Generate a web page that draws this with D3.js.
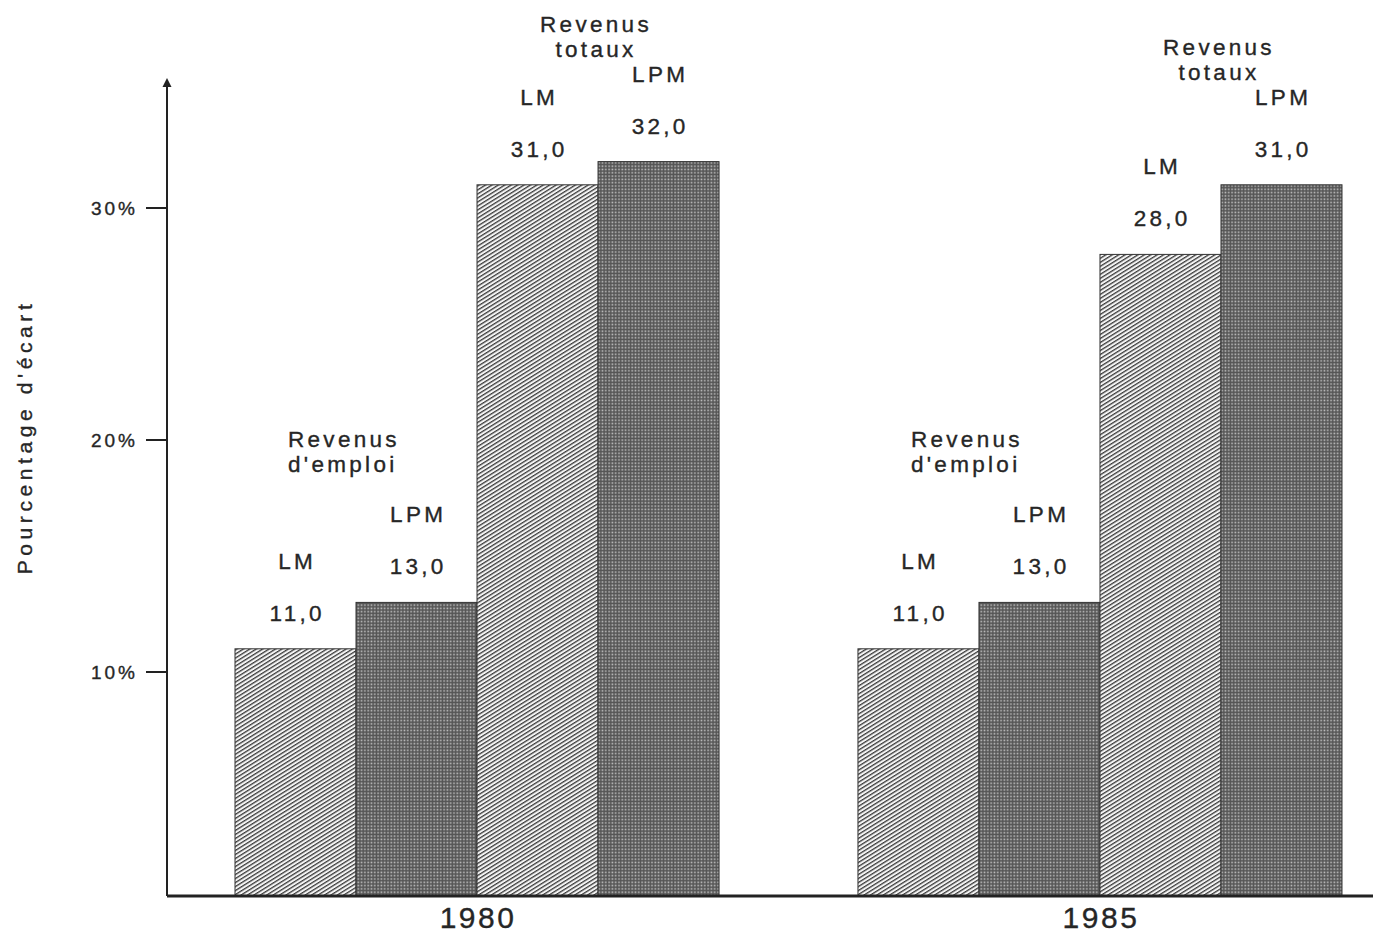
<!DOCTYPE html>
<html lang="fr">
<head>
<meta charset="utf-8">
<script src="https://cdn.jsdelivr.net/npm/d3@7"></script>
<style>
  html, body { margin: 0; padding: 0; background: #fff; }
  svg { display: block; }
  text { font-family: "Liberation Sans", Arial, sans-serif; fill: #262626; stroke: #262626; stroke-width: 0.35px; }
</style>
</head>
<body>
<svg id="chart" width="1373" height="935"></svg>
<script>
// Années et séries
const years = ["1980", "1985"];
const series = ["emploiLM", "emploiLPM", "totauxLM", "totauxLPM"];
const seriesShort = ["LM", "LPM", "LM", "LPM"];
const seriesKind = ["lm", "lpm", "lm", "lpm"];
const values1980 = [11.0, 13.0, 31.0, 32.0];
const values1985 = [11.0, 13.0, 28.0, 31.0];
const yTicks = [10, 20, 30];
const groupHeads = [["Revenus", "d'emploi"], ["Revenus", "totaux"]];
const axisTitle = "Pourcentage d'écart";

const valuesByYear = { "1980": values1980, "1985": values1985 };
const fmt = v => v.toFixed(1).replace(".", ",");

const svg = d3.select("#chart");
const W = 1373, H = 935;
const axisX = 167, baseY = 896, topY = 78;

// Motifs de remplissage : hachures pour LM, trame pointillée pour LPM
const defs = svg.append("defs");
const hatch = defs.append("pattern")
  .attr("id", "hatch").attr("patternUnits", "userSpaceOnUse")
  .attr("width", 8).attr("height", 3.4)
  .attr("patternTransform", "rotate(-32)");
hatch.append("rect").attr("width", 8).attr("height", 3.4).attr("fill", "#f4f4f4");
hatch.append("rect").attr("y", 0).attr("width", 8).attr("height", 1.3).attr("fill", "#3a3a3a");

const dots = defs.append("pattern")
  .attr("id", "dots").attr("patternUnits", "userSpaceOnUse")
  .attr("width", 3.3).attr("height", 3.3);
dots.append("rect").attr("width", 3.3).attr("height", 3.3).attr("fill", "#555");
dots.append("rect").attr("x", 0.4).attr("y", 0.4).attr("width", 1.6).attr("height", 1.6).attr("fill", "#c0c0c0");

// Échelles
const x0 = d3.scaleBand().domain(years).range([235, 1342]).paddingInner(0.223).paddingOuter(0);
const x1 = d3.scaleBand().domain(series).range([0, x0.bandwidth()]).padding(0);
const y = d3.scaleLinear().domain([10, 30]).range([672, 208]);

// Barres
const groups = svg.append("g").selectAll("g")
  .data(years).join("g")
  .attr("transform", d => `translate(${x0(d)},0)`);

groups.selectAll("rect")
  .data(yr => series.map((s, i) => ({ year: yr, key: s, i, value: valuesByYear[yr][i] })))
  .join("rect")
  .attr("x", d => x1(d.key))
  .attr("y", d => y(d.value))
  .attr("width", x1.bandwidth())
  .attr("height", d => baseY - y(d.value))
  .attr("fill", d => seriesKind[d.i] === "lm" ? "url(#hatch)" : "url(#dots)")
  .attr("stroke", "#333")
  .attr("stroke-width", 1);

// Étiquettes : valeur et série au-dessus de chaque barre
const labelFont = 22.5, labelSpacing = 3.3;
groups.each(function (yr) {
  const g = d3.select(this);
  const vals = valuesByYear[yr];
  series.forEach((s, i) => {
    const cx = x1(s) + x1.bandwidth() / 2 + labelSpacing / 2;
    const top = y(vals[i]);
    g.append("text")
      .attr("x", cx).attr("y", top - 28)
      .attr("text-anchor", "middle")
      .attr("font-size", labelFont).attr("letter-spacing", labelSpacing)
      .text(fmt(vals[i]));
    g.append("text")
      .attr("x", cx).attr("y", top - 80)
      .attr("text-anchor", "middle")
      .attr("font-size", labelFont).attr("letter-spacing", labelSpacing)
      .text(seriesShort[i]);
  });
  // En-têtes des paires de barres
  const pairs = [[0, 1], [2, 3]];
  pairs.forEach((p, k) => {
    const hi = Math.max(vals[p[0]], vals[p[1]]);
    let hx, anchor, hy;
    if (k === 0) {
      hx = x1(series[p[0]]) + 53; anchor = "start"; hy = y(hi) - 155;
    } else {
      hx = (x1(series[p[0]]) + x1(series[p[1]]) + x1.bandwidth()) / 2 - 2;
      anchor = "middle"; hy = y(hi) - 130;
    }
    groupHeads[k].forEach((line, j) => {
      g.append("text")
        .attr("x", hx).attr("y", hy + j * 25)
        .attr("text-anchor", anchor)
        .attr("font-size", labelFont).attr("letter-spacing", labelSpacing)
        .text(line);
    });
  });
});

// Axe vertical avec flèche
svg.append("line")
  .attr("x1", axisX).attr("x2", axisX).attr("y1", baseY).attr("y2", topY + 8)
  .attr("stroke", "#222").attr("stroke-width", 2);
svg.append("path")
  .attr("d", `M${axisX - 4.5},${topY + 9} L${axisX},${topY} L${axisX + 4.5},${topY + 9} Z`)
  .attr("fill", "#222");

const yAxis = svg.append("g");
yAxis.selectAll("line.tick")
  .data(yTicks).join("line")
  .attr("class", "tick")
  .attr("x1", axisX - 21).attr("x2", axisX)
  .attr("y1", d => y(d)).attr("y2", d => y(d))
  .attr("stroke", "#222").attr("stroke-width", 2);
yAxis.selectAll("text")
  .data(yTicks).join("text")
  .attr("x", 138).attr("y", d => y(d) + 7)
  .attr("text-anchor", "end")
  .attr("font-size", 19).attr("letter-spacing", 3)
  .text(d => d + "%");

// Axe horizontal
svg.append("line")
  .attr("x1", axisX).attr("x2", W).attr("y1", baseY).attr("y2", baseY)
  .attr("stroke", "#222").attr("stroke-width", 3);

svg.append("g").selectAll("text")
  .data(years).join("text")
  .attr("x", d => x0(d) + x0.bandwidth() / 2 + 1)
  .attr("y", 928)
  .attr("text-anchor", "middle")
  .attr("font-size", 30).attr("letter-spacing", 2.5)
  .text(d => d);

// Titre de l'axe vertical
svg.append("text")
  .attr("transform", "translate(32,437) rotate(-90)")
  .attr("text-anchor", "middle")
  .attr("font-size", 21).attr("letter-spacing", 4.6)
  .text(axisTitle);
</script>
</body>
</html>
